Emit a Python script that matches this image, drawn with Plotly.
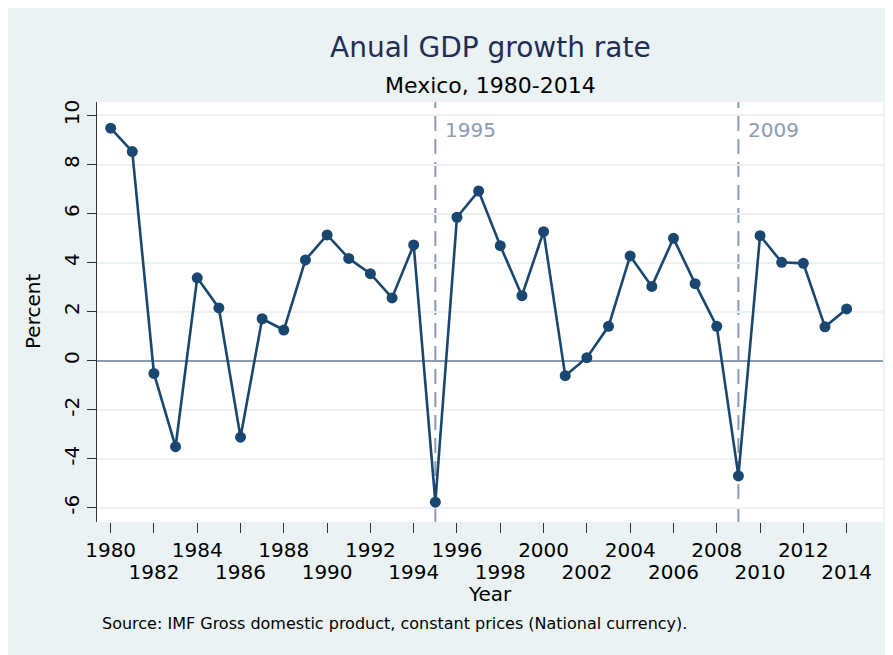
import plotly.graph_objects as go

# ---------------- data ----------------
years = list(range(1980, 2015))
growth = [9.48, 8.53, -0.52, -3.51, 3.38, 2.15, -3.12, 1.71, 1.25, 4.11,
          5.13, 4.17, 3.55, 2.56, 4.72, -5.77, 5.85, 6.92, 4.69, 2.65,
          5.26, -0.61, 0.12, 1.40, 4.27, 3.03, 4.99, 3.14, 1.40, -4.70,
          5.10, 4.01, 3.97, 1.38, 2.11]
tick_upper = [1980, 1984, 1988, 1992, 1996, 2000, 2004, 2008, 2012]
tick_lower = [1982, 1986, 1990, 1994, 1998, 2002, 2006, 2010, 2014]
y_ticks = [-6, -4, -2, 0, 2, 4, 6, 8, 10]
y_tick_labels = ["-6", "-4", "-2", "0", "2", "4", "6", "8", "10"]
event_years = [1995, 2009]

title_text = "Anual GDP growth rate"
subtitle_text = "Mexico, 1980-2014"
x_title = "Year"
y_title = "Percent"
note_text = "Source: IMF Gross domestic product, constant prices (National currency)."

# ---------------- style ----------------
FONT = "DejaVu Sans"
NAVY = "#1A476F"
REF = "#8A9BB2"
BG = "#EAF2F3"

all_ticks = sorted(tick_upper + tick_lower)
x_range = [1979.37, 2015.68]
y_range = [-6.58, 10.55]

fig = go.Figure()
fig.add_trace(go.Scatter(
    x=years, y=growth, mode="lines+markers",
    line=dict(color=NAVY, width=2.6),
    marker=dict(color=NAVY, size=11),
    showlegend=False, hoverinfo="x+y"))
# invisible helper trace so the second-row label axis is drawn
fig.add_trace(go.Scatter(
    x=years, y=growth, xaxis="x2", mode="lines",
    line=dict(width=0, color="rgba(0,0,0,0)"),
    showlegend=False, hoverinfo="skip"))

for yr in event_years:
    fig.add_shape(type="line", xref="x", yref="paper", x0=yr, x1=yr, y0=0, y1=1,
                  line=dict(color=REF, width=2, dash="15px,8px"), layer="between")
    fig.add_annotation(x=yr, xref="x", y=1, yref="paper", yshift=-28,
                       xanchor="left", yanchor="middle", xshift=8,
                       text=str(yr), showarrow=False,
                       font=dict(family=FONT, size=20, color=REF))

tick_font = dict(family=FONT, size=20, color="black")

fig.update_layout(
    width=893, height=655,
    margin=dict(l=89, r=18, t=94, b=141),
    paper_bgcolor=BG, plot_bgcolor="white",
    xaxis=dict(range=x_range, tickmode="array", tickvals=all_ticks,
               ticktext=[str(t) if t in tick_upper else "" for t in all_ticks],
               ticks="outside", ticklen=10, tickwidth=1, tickcolor="#333",
               showgrid=False, zeroline=False, showline=False,
               tickfont=tick_font, ticklabelstandoff=0),
    xaxis2=dict(range=x_range, overlaying="x", anchor="y", side="bottom",
                tickmode="array", tickvals=tick_lower,
                ticktext=[str(t) for t in tick_lower],
                ticks="outside", ticklen=10, tickcolor="rgba(0,0,0,0)",
                showgrid=False, zeroline=False, showline=False,
                tickfont=tick_font, ticklabelstandoff=22),
    yaxis=dict(range=y_range, tickmode="array", tickvals=y_ticks,
               ticktext=y_tick_labels,
               tickangle=-90, ticks="outside", ticklen=9, tickwidth=1, tickcolor="#333",
               showline=True, linecolor="#333", linewidth=1,
               showgrid=True, gridcolor=BG, gridwidth=2,
               zeroline=True, zerolinecolor=REF, zerolinewidth=2,
               tickfont=tick_font, ticklabelstandoff=0),
    annotations=list(fig.layout.annotations) + [
        dict(text=title_text, xref="paper", yref="paper", x=0.5, y=1,
             yanchor="middle", yshift=55, showarrow=False,
             font=dict(family=FONT, size=28, color="#1F2E55")),
        dict(text=subtitle_text, xref="paper", yref="paper", x=0.5, y=1,
             yanchor="middle", yshift=17, showarrow=False,
             font=dict(family=FONT, size=22, color="black")),
        dict(text=x_title, xref="paper", yref="paper", x=0.5, y=0,
             yanchor="middle", yshift=-72, showarrow=False,
             font=dict(family=FONT, size=20, color="black")),
        dict(text=y_title, xref="paper", yref="paper", x=0, y=0.5,
             xanchor="center", xshift=-64, textangle=-90, showarrow=False,
             font=dict(family=FONT, size=20, color="black")),
        dict(text=note_text, xref="paper", yref="paper", x=0, y=0,
             xanchor="left", xshift=3, yanchor="middle", yshift=-101, showarrow=False,
             font=dict(family=FONT, size=16, color="black")),
    ],
)

fig.write_html("out.html")
